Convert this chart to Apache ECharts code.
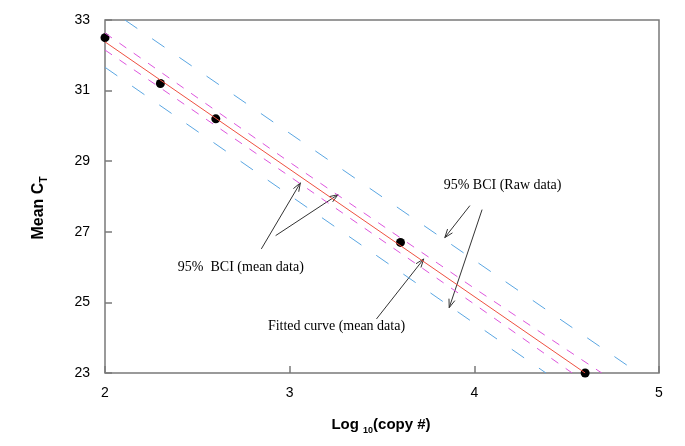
<!DOCTYPE html>
<html><head><meta charset="utf-8">
<script src="https://cdn.jsdelivr.net/npm/echarts@6/dist/echarts.min.js"></script>
<style>html,body{margin:0;padding:0;background:#fff}#c{width:685px;height:446px}</style>
</head><body><div id="c"></div>
<script>
// Observed data
const logCopy = [2.0, 2.3, 2.6, 3.6, 4.6];
const meanCt = [32.5, 31.2, 30.2, 26.7, 23.0];
// Fitted curve (mean data)
const fittedX = [2.0, 4.6];
const fittedY = [32.38, 23.0];
// 95% BCI (mean data)
const meanBciUpperX = [2.0, 3.0, 4.0, 4.69];
const meanBciUpperY = [32.63, 28.97, 25.40, 23.0];
const meanBciLowerX = [2.0, 3.0, 4.0, 4.53];
const meanBciLowerY = [32.15, 28.57, 24.95, 23.0];
// 95% BCI (raw data)
const rawBciUpperX = [2.108, 4.888];
const rawBciUpperY = [33.0, 23.0];
const rawBciLowerX = [2.0, 4.388];
const rawBciLowerY = [31.66, 23.0];
// Axes
const xTicks = [2, 3, 4, 5];
const yTicks = [23, 25, 27, 29, 31, 33];
// Annotations (data coordinates)
const annotationTexts = ['95% BCI (Raw data)', '95%  BCI (mean data)', 'Fitted curve (mean data)'];
const annotationAt = [[3.834, 28.31], [2.3946, 25.985], [2.882, 24.313]];
const arrowFrom = [[2.8466, 26.515], [2.924, 26.892], [3.470, 24.531], [3.976, 27.742], [4.042, 27.629]];
const arrowTo = [[3.058, 28.386], [3.262, 28.054], [3.726, 26.231], [3.840, 26.835], [3.864, 24.851]];

const zip = (xs, ys) => xs.map((x, i) => [x, ys[i]]);
const chart = echarts.init(document.getElementById('c'), null, {renderer: 'canvas'});
const axisColor = '#7a7a7a';
const lbl = {color: '#000', fontFamily: 'Liberation Sans, Arial, sans-serif', fontSize: 14};

function dashed(data, color, dash) {
  return {type: 'line', data, symbol: 'none', silent: true, clip: true,
    lineStyle: {color, width: 1, type: dash}};
}

chart.setOption({
  animation: false,
  backgroundColor: '#fff',
  grid: {show: true, left: 105, top: 20, width: 554, height: 353, borderColor: axisColor, borderWidth: 1.5, backgroundColor: 'transparent'},
  xAxis: {
    type: 'value', min: xTicks[0], max: xTicks[xTicks.length - 1], interval: 1,
    axisLine: {show: false}, splitLine: {show: false},
    axisTick: {show: true, inside: true, length: 7, lineStyle: {color: axisColor, width: 1.5}},
    axisLabel: Object.assign({margin: 13, formatter: v => String(v)}, lbl)
  },
  yAxis: {
    type: 'value', min: yTicks[0], max: yTicks[yTicks.length - 1],
    axisLine: {show: false}, splitLine: {show: false},
    axisTick: {show: true, inside: true, length: 7, customValues: yTicks, lineStyle: {color: axisColor, width: 1.5}},
    axisLabel: Object.assign({margin: 15, customValues: yTicks, formatter: v => String(v)}, lbl)
  },
  series: [
    dashed(zip(rawBciUpperX, rawBciUpperY), '#5aa6e2', [15, 18]),
    dashed(zip(rawBciLowerX, rawBciLowerY), '#5aa6e2', [15, 18]),
    dashed(zip(meanBciUpperX, meanBciUpperY), '#dd55dd', [8.5, 9]),
    dashed(zip(meanBciLowerX, meanBciLowerY), '#dd55dd', [8.5, 9]),
    {type: 'line', data: zip(fittedX, fittedY), symbol: 'none', silent: true,
      lineStyle: {color: '#ee5040', width: 1}},
    {type: 'scatter', data: zip(logCopy, meanCt), symbol: 'circle', symbolSize: 9, clip: false,
      itemStyle: {color: '#000', opacity: 1}}
  ]
});

const toPx = p => chart.convertToPixel({xAxisIndex: 0, yAxisIndex: 0}, p);
const graphics = [];
const serif = 'Liberation Serif, Times New Roman, serif';
annotationTexts.forEach((t, i) => {
  const p = toPx(annotationAt[i]);
  graphics.push({type: 'text', x: p[0], y: p[1], silent: true,
    style: {text: t, font: '14px ' + serif, fill: '#000', align: 'left', verticalAlign: 'middle'}});
});
arrowFrom.forEach((f, i) => {
  const a = toPx(f), b = toPx(arrowTo[i]);
  const ang = Math.atan2(b[1] - a[1], b[0] - a[0]);
  const L = 9, sp = 0.35;
  const h1 = [b[0] - L * Math.cos(ang - sp), b[1] - L * Math.sin(ang - sp)];
  const h2 = [b[0] - L * Math.cos(ang + sp), b[1] - L * Math.sin(ang + sp)];
  graphics.push({type: 'line', silent: true, shape: {x1: a[0], y1: a[1], x2: b[0], y2: b[1]},
    style: {stroke: '#333', lineWidth: 1}});
  graphics.push({type: 'polyline', silent: true, shape: {points: [h1, b, h2]},
    style: {stroke: '#333', lineWidth: 1, fill: null}});
});
// Axis titles
graphics.push({type: 'text', x: 381, y: 425, silent: true,
  style: {text: '{a|Log }{s|10}{a|(copy #)}', align: 'center', verticalAlign: 'middle',
    rich: {a: {font: 'bold 15px Liberation Sans, Arial, sans-serif', fill: '#000', lineHeight: 20},
           s: {font: 'bold 9px Liberation Sans, Arial, sans-serif', fill: '#000', lineHeight: 10, verticalAlign: 'bottom'}}}});
graphics.push({type: 'text', x: 39, y: 208, rotation: Math.PI / 2, silent: true,
  style: {text: '{a|Mean C}{s|T}', align: 'center', verticalAlign: 'middle',
    rich: {a: {font: 'bold 16px Liberation Sans, Arial, sans-serif', fill: '#000', lineHeight: 20},
           s: {font: 'bold 10px Liberation Sans, Arial, sans-serif', fill: '#000', lineHeight: 10, verticalAlign: 'bottom'}}}});
chart.setOption({graphic: graphics});
</script>
</body></html>
